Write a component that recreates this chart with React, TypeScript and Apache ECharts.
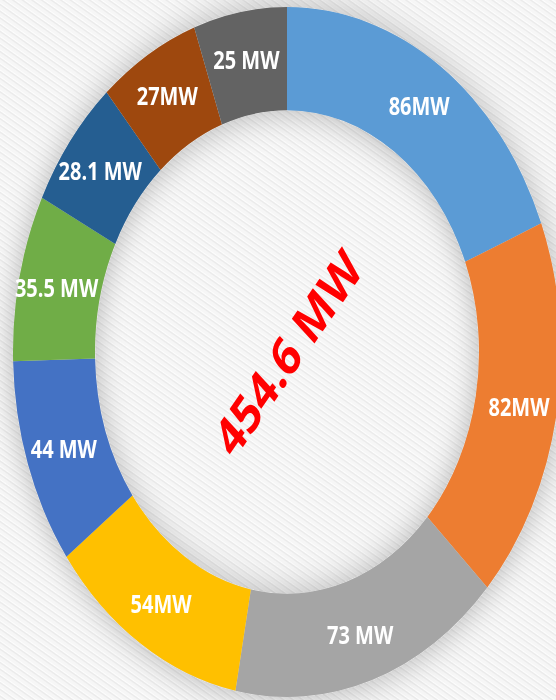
import React, { useEffect, useRef } from 'react';
import * as echarts from 'echarts';

const categories = ['S1', 'S2', 'S3', 'S4', 'S5', 'S6', 'S7', 'S8', 'S9'];
const values = [86, 82, 73, 54, 44, 35.5, 28.1, 27, 25];
const valueLabels = ['86MW', '82MW', '73 MW', '54MW', '44 MW', '35.5 MW', '28.1 MW', '27MW', '25 MW'];
const colors = ['#5B9BD5', '#ED7D31', '#A5A5A5', '#FFC000', '#4472C4', '#70AD47', '#255E91', '#9E480E', '#636363'];
const totalLabel = '454.6 MW';

const W = 556;
const H = 700;
const BASE = 556;
const SCALE_Y = H / BASE;

export default function App() {
  const ref = useRef<HTMLDivElement>(null);
  useEffect(() => {
    if (!ref.current) return;
    const chart = echarts.init(ref.current, null, { renderer: 'svg' });
    const cx = 287;
    const cy = 352 / SCALE_Y;
    chart.setOption({
      animation: false,
      series: [
        {
          type: 'pie',
          silent: true,
          radius: [192, 274],
          center: [cx, cy],
          label: { show: false },
          labelLine: { show: false },
          z: 1,
          data: [
            {
              value: 1,
              name: 'shadow',
              itemStyle: { color: '#d9d9d9', shadowBlur: 28, shadowColor: 'rgba(0,0,0,0.28)' },
            },
          ],
        },
        {
          type: 'pie',
          radius: [192, 274],
          center: [cx, cy],
          startAngle: 90,
          clockwise: true,
          z: 2,
          label: {
            show: true,
            position: 'inside',
            color: '#ffffff',
            fontWeight: 'bold',
            fontSize: 20,
            fontFamily: '"Open Sans", "Noto Sans", sans-serif',
          },
          labelLine: { show: false },
          data: values.map((v, i) => ({
            name: categories[i],
            value: v,
            itemStyle: { color: colors[i] },
            label: { formatter: valueLabels[i] },
          })),
        },
      ],
      graphic: [
        {
          type: 'text',
          x: cx,
          y: cy,
          rotation: (49 * Math.PI) / 180,
          z: 10,
          style: {
            text: totalLabel,
            fill: '#ff0000',
            fontSize: 42,
            fontWeight: 'bold',
            fontFamily: '"Open Sans", "Noto Sans", sans-serif',
            textAlign: 'center',
            textVerticalAlign: 'middle',
          },
        },
      ],
    });
    return () => chart.dispose();
  }, []);
  return (
    <div
      style={{
        position: 'absolute',
        left: 0,
        top: 0,
        width: W,
        height: H,
        overflow: 'hidden',
        background:
          'repeating-linear-gradient(35deg, #f6f6f6 0px, #f6f6f6 2px, #ebebeb 3px, #ebebeb 3.5px, #fdfdfd 4.5px, #f6f6f6 5.5px)',
      }}
    >
      <div
        ref={ref}
        style={{ width: W, height: BASE, transform: `scaleY(${SCALE_Y})`, transformOrigin: '0 0' }}
      />
    </div>
  );
}
